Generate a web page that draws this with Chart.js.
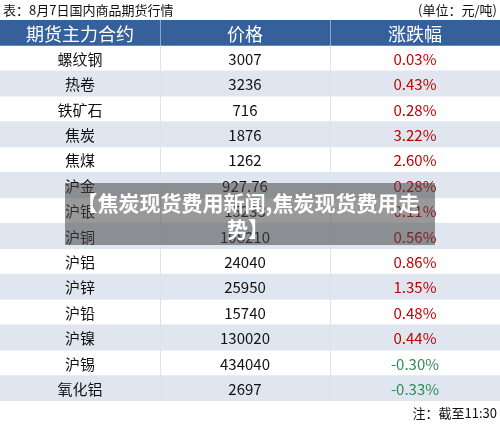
<!DOCTYPE html>
<html>
<head>
<meta charset="utf-8">
<script src="https://cdn.jsdelivr.net/npm/chart.js@4/dist/chart.umd.min.js"></script>
<style>
  html, body { margin: 0; padding: 0; background: #fff; }
  #wrap { width: 500px; height: 427px; }
</style>
</head>
<body>
<div id="wrap"><canvas id="tableChart"></canvas></div>
<script>
// Table data
const headers = ['期货主力合约', '价格', '涨跌幅'];
const contracts = ['螺纹钢', '热卷', '铁矿石', '焦炭', '焦煤', '沪金', '沪银', '沪铜', '沪铝', '沪锌', '沪铅', '沪镍', '沪锡', '氧化铝'];
const prices = ['3007', '3236', '716', '1876', '1262', '927.76', '15233', '108210', '24040', '25950', '15740', '130020', '434040', '2697'];
const changes = [0.03, 0.43, 0.28, 3.22, 2.60, 0.28, 0.11, 0.56, 0.86, 1.35, 0.48, 0.44, -0.30, -0.33];
const columnEdges = [0, 160, 330, 500];

const rowLabels = ['header', ...contracts];
const font = '"Noto Sans CJK SC", "Noto Sans", sans-serif';

// Row backgrounds as floating bars
const stripeData = rowLabels.map((r, i) => i === 0 ? null : (i % 2 === 0 ? [0, 500] : null));
const headerData = rowLabels.map((r, i) => i === 0 ? [0, 500] : null);

const tablePlugin = {
    id: 'tableText',
    afterDatasetsDraw(chart) {
        const ctx = chart.ctx;
        const x = chart.scales.x;
        const y = chart.scales.y;
        const top = chart.chartArea.top;
        const bottom = chart.chartArea.bottom;
        const rowH = (bottom - top) / rowLabels.length;

        ctx.save();
        // column separators
        [1, 2].forEach(c => {
            const px = x.getPixelForValue(columnEdges[c]);
            ctx.strokeStyle = '#8ea6c6';
            ctx.lineWidth = 1;
            ctx.beginPath();
            ctx.moveTo(px + 0.5, top);
            ctx.lineTo(px + 0.5, top + rowH);
            ctx.stroke();
            ctx.strokeStyle = '#dde3ea';
            ctx.beginPath();
            ctx.moveTo(px + 0.5, top + rowH);
            ctx.lineTo(px + 0.5, bottom);
            ctx.stroke();
        });

        ctx.textBaseline = 'middle';
        ctx.textAlign = 'center';
        const centers = [0, 1, 2].map(c => x.getPixelForValue((columnEdges[c] + columnEdges[c + 1]) / 2));

        // header
        ctx.font = '18px ' + font;
        ctx.fillStyle = '#ffffff';
        headers.forEach((h, c) => ctx.fillText(h, centers[c], y.getPixelForValue(0) + 1));

        // rows
        ctx.font = '15px ' + font;
        contracts.forEach((name, i) => {
            const py = y.getPixelForValue(i + 1) + 1;
            ctx.fillStyle = '#111111';
            ctx.fillText(name, centers[0], py);
            ctx.fillText(prices[i], centers[1], py);
            ctx.fillStyle = changes[i] < 0 ? '#2e8b57' : '#c00000';
            ctx.fillText(changes[i].toFixed(2) + '%', centers[2], py);
        });

        // title and notes
        ctx.fillStyle = '#111111';
        ctx.font = '13px ' + font;
        ctx.textAlign = 'left';
        ctx.fillText('表：8月7日国内商品期货行情', 3, 10);
        ctx.textAlign = 'right';
        ctx.fillText('(单位：元/吨)', 497, 10);
        ctx.fillText('注：截至11:30', 497, 413);

        // watermark overlay
        ctx.fillStyle = 'rgba(70, 70, 70, 0.55)';
        ctx.fillRect(65, 183, 370, 62);
        ctx.fillStyle = '#ffffff';
        ctx.font = 'bold 21px ' + font;
        ctx.textAlign = 'center';
        ctx.fillText('【焦炭现货费用新闻,焦炭现货费用走', 248, 203);
        ctx.fillText('势】', 248, 229);
        ctx.restore();
    }
};

new Chart(document.getElementById('tableChart'), {
    type: 'bar',
    data: {
        labels: rowLabels,
        datasets: [{
            data: headerData,
            backgroundColor: '#35609a',
            barPercentage: 1,
            categoryPercentage: 1,
            grouped: false
        }, {
            data: stripeData,
            backgroundColor: '#dfe6ef',
            barPercentage: 1,
            categoryPercentage: 1,
            grouped: false
        }]
    },
    options: {
        indexAxis: 'y',
        responsive: true,
        maintainAspectRatio: false,
        animation: false,
        layout: {
            padding: { top: 20, bottom: 26, left: 0, right: 0 }
        },
        plugins: {
            legend: { display: false },
            tooltip: { enabled: false }
        },
        scales: {
            x: { type: 'linear', min: 0, max: 500, display: false },
            y: { type: 'category', display: false }
        }
    },
    plugins: [tablePlugin]
});
</script>
</body>
</html>
